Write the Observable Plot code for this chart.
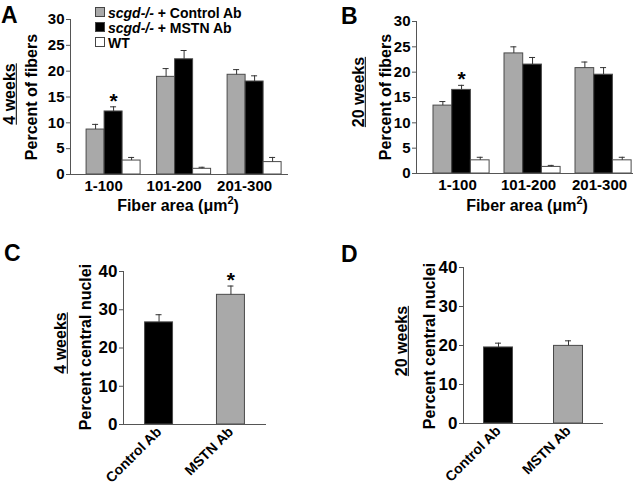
<!DOCTYPE html>
<html>
<head>
<meta charset="utf-8">
<script src="https://cdn.jsdelivr.net/npm/d3@7"></script>
<script src="https://cdn.jsdelivr.net/npm/@observablehq/plot@0.6"></script>
<style>
  html, body { margin: 0; padding: 0; background: #fff; }
  #fig { position: relative; width: 640px; height: 485px; background: #fff;
         font-family: "Liberation Sans", Arial, sans-serif; font-weight: bold; color: #000; overflow: hidden; }
  .panel { position: absolute; }
  .lbl { position: absolute; white-space: nowrap; line-height: 1.15; }
  .rot { transform: translate(-50%, -50%) rotate(-90deg); }
  .ctr { transform: translate(-50%, -50%); }
  .letter { font-size: 23px; }
  .leg { position: absolute; font-size: 14px; white-space: nowrap; line-height: 1; }
  .sw { display: inline-block; width: 8px; height: 8px; border: 1px solid #444; margin-right: 3px; vertical-align: 1px; }
</style>
</head>
<body>
<div id="fig"></div>
<script>
// ---------- data ----------
const groupsAB = ["1-100", "101-200", "201-300"];
const seriesAB = ["scgd-/- + Control Ab", "scgd-/- + MSTN Ab", "WT"];
const yTicksAB = [0, 5, 10, 15, 20, 25, 30];

const aControl = [8.7, 18.9, 19.3];
const aControlErr = [1.0, 1.6, 1.0];
const aMstn = [12.2, 22.3, 18.0];
const aMstnErr = [0.9, 1.7, 1.1];
const aWt = [2.7, 1.1, 2.4];
const aWtErr = [0.6, 0.3, 0.9];
const aSig = [[false, false, false], [true, false, false], [false, false, false]];

const bControl = [13.4, 23.7, 20.8];
const bControlErr = [0.8, 1.3, 1.2];
const bMstn = [16.5, 21.5, 19.5];
const bMstnErr = [0.9, 1.4, 1.4];
const bWt = [2.6, 1.3, 2.6];
const bWtErr = [0.6, 0.3, 0.6];
const bSig = [[false, false, false], [true, false, false], [false, false, false]];

const groupsCD = ["Control Ab", "MSTN Ab"];
const yTicksCD = [0, 10, 20, 30, 40];
const cValues = [26.7, 33.9];
const cErr = [2.0, 2.3];
const cSig = [false, true];
const dValues = [19.5, 19.9];
const dErr = [1.1, 1.3];
const dSig = [false, false];

// ---------- style ----------
const FONT = "'Liberation Sans', Arial, sans-serif";
const GRAY = "#a9a9a9";
const EDGE = "#4a4a4a";
const AXIS = "#555";

function bandWidth(n, frameW, pi, po) {
  const step = frameW / (n - pi + 2 * po);
  return step * (1 - pi);
}

function groupedPanel(cfg) {
  const {groups, values, errs, sig, fills, width, height, mL, mR, mT, mB, yMax, yTicks, pi, po, align, labelDx, tickFont} = cfg;
  const nS = values.length;
  const bw = bandWidth(groups.length, width - mL - mR, pi, po);
  const sub = bw / nS;
  const marks = [];
  for (let k = 0; k < nS; k++) {
    const dk = groups.map((g, i) => ({group: g, value: values[k][i], err: errs[k][i], sig: sig[k][i]}));
    const off = (k - (nS - 1) / 2) * sub;
    marks.push(Plot.barY(dk, {x: "group", y: "value", fill: fills[k], stroke: EDGE, strokeWidth: 1,
      insetLeft: k * sub, insetRight: (nS - 1 - k) * sub}));
    marks.push(Plot.ruleX(dk, {x: "group", y1: "value", y2: d => d.value + d.err, dx: off, stroke: "#333"}));
    marks.push(Plot.tickY(dk, {x: "group", y: d => d.value + d.err, dx: off,
      insetLeft: bw / 2 - 3, insetRight: bw / 2 - 3, stroke: "#333"}));
    marks.push(Plot.text(dk.filter(d => d.sig), {x: "group", y: d => d.value + d.err, dx: off, dy: -6,
      text: () => "*", fontSize: 21, fontWeight: "bold"}));
  }
  marks.push(Plot.ruleY([0], {stroke: AXIS}));
  marks.push(Plot.frame({anchor: "left", stroke: AXIS}));
  marks.push(Plot.axisY({ticks: yTicks, tickSize: 4, tickPadding: 2, label: null, stroke: AXIS, fill: "#000"}));
  marks.push(Plot.axisX({tickSize: 0, tickPadding: 6, label: null, dx: labelDx, fill: "#000"}));
  return Plot.plot({
    width, height, marginLeft: mL, marginRight: mR, marginTop: mT, marginBottom: mB,
    style: {fontFamily: FONT, fontSize: tickFont + "px", fontWeight: "bold", background: "transparent", color: "#000"},
    x: {type: "band", domain: groups, paddingInner: pi, paddingOuter: po, align, round: false},
    y: {domain: [0, yMax]},
    marks
  });
}

function simplePanel(cfg) {
  const {groups, values, errs, sig, fills, width, height, mL, mR, mT, mB, yMax, yTicks, pi, po} = cfg;
  const data = groups.map((g, i) => ({group: g, value: values[i], err: errs[i], sig: sig[i], fill: fills[i]}));
  const bw = bandWidth(groups.length, width - mL - mR, pi, po);
  return Plot.plot({
    width, height, marginLeft: mL, marginRight: mR, marginTop: mT, marginBottom: mB,
    style: {fontFamily: FONT, fontSize: "16px", fontWeight: "bold", background: "transparent", color: "#000"},
    x: {type: "band", domain: groups, paddingInner: pi, paddingOuter: po, align: 0.5, round: false},
    y: {domain: [0, yMax]},
    marks: [
      Plot.barY(data, {x: "group", y: "value", fill: d => d.fill, stroke: EDGE, strokeWidth: 1}),
      Plot.ruleX(data, {x: "group", y1: "value", y2: d => d.value + d.err, stroke: "#333"}),
      Plot.tickY(data, {x: "group", y: d => d.value + d.err, insetLeft: bw / 2 - 3, insetRight: bw / 2 - 3, stroke: "#333"}),
      Plot.text(data.filter(d => d.sig), {x: "group", y: d => d.value + d.err, dy: -6, text: () => "*", fontSize: 21, fontWeight: "bold"}),
      Plot.ruleY([0], {stroke: AXIS}),
      Plot.frame({anchor: "left", stroke: AXIS}),
      Plot.axisY({ticks: yTicks, tickSize: 4, tickPadding: 2, label: null, stroke: AXIS, fill: "#000", fontSize: 17}),
      Plot.axisX({tickSize: 0, tickPadding: 5, tickRotate: -45, label: null, fill: "#000", fontSize: 14})
    ]
  });
}

const fig = document.getElementById("fig");
function place(node, left, top) {
  const d = document.createElement("div");
  d.className = "panel";
  d.style.left = left + "px";
  d.style.top = top + "px";
  d.appendChild(node);
  fig.appendChild(d);
}
function label(html, x, y, cls, size) {
  const d = document.createElement("div");
  d.className = "lbl " + cls;
  d.style.left = x + "px";
  d.style.top = y + "px";
  if (size) d.style.fontSize = size + "px";
  d.innerHTML = html;
  fig.appendChild(d);
}

// Panel A
place(groupedPanel({
  groups: groupsAB, values: [aControl, aMstn, aWt], errs: [aControlErr, aMstnErr, aWtErr], sig: aSig,
  fills: [GRAY, "#000", "#fff"], width: 320, height: 230, mL: 70, mR: 32, mT: 19, mB: 56,
  yMax: 30, yTicks: yTicksAB, pi: 0.234, po: 0.163, align: 0.7, labelDx: -10, tickFont: 15
}), 0, 0);

// Panel B
place(groupedPanel({
  groups: groupsAB, values: [bControl, bMstn, bWt], errs: [bControlErr, bMstnErr, bWtErr], sig: bSig,
  fills: [GRAY, "#000", "#fff"], width: 320, height: 230, mL: 96, mR: 7, mT: 21, mB: 57,
  yMax: 30, yTicks: yTicksAB, pi: 0.21, po: 0.133, align: 0.9, labelDx: -4, tickFont: 15
}), 320, 0);

// Panel C
place(simplePanel({
  groups: groupsCD, values: cValues, errs: cErr, sig: cSig, fills: ["#000", GRAY],
  width: 320, height: 255, mL: 123, mR: 54, mT: 41, mB: 61, yMax: 40, yTicks: yTicksCD, pi: 0.611, po: 0.3
}), 0, 230);

// Panel D
place(simplePanel({
  groups: groupsCD, values: dValues, errs: dErr, sig: dSig, fills: ["#000", GRAY],
  width: 320, height: 255, mL: 143, mR: 37, mT: 37, mB: 62, yMax: 40, yTicks: yTicksCD, pi: 0.586, po: 0.293
}), 320, 230);

// Text labels
label("A", 1, 2, "letter");
label("B", 341, 3, "letter");
label("C", 4, 240, "letter");
label("D", 341, 241, "letter");

label("<u>4 weeks</u>", 10, 94, "rot", 16);
label("Percent of fibers", 32, 97, "rot", 16);
label("Fiber area (μm<sup style='font-size:11px;line-height:0'>2</sup>)", 178, 206, "ctr", 16);

label("<u>20 weeks</u>", 359, 92, "rot", 16);
label("Percent of fibers", 386, 97, "rot", 16);
label("Fiber area (μm<sup style='font-size:11px;line-height:0'>2</sup>)", 527, 206, "ctr", 16);

label("<u>4 weeks</u>", 61, 343, "rot", 16);
label("Percent central nuclei", 86, 347, "rot", 16);

label("<u>20 weeks</u>", 402, 341, "rot", 16);
label("Percent central nuclei", 430, 346, "rot", 16);

// Legend (panel A)
const legFills = [GRAY, "#000", "#fff"];
const legHtml = [
  "<i>scgd-/-</i> + Control Ab",
  "<i>scgd-/-</i> + MSTN Ab",
  seriesAB[2]
];
legHtml.forEach((h, i) => {
  const d = document.createElement("div");
  d.className = "leg";
  d.style.left = "95px";
  d.style.top = (6 + i * 15) + "px";
  d.innerHTML = `<span class="sw" style="background:${legFills[i]}"></span>${h}`;
  fig.appendChild(d);
});
</script>
</body>
</html>
